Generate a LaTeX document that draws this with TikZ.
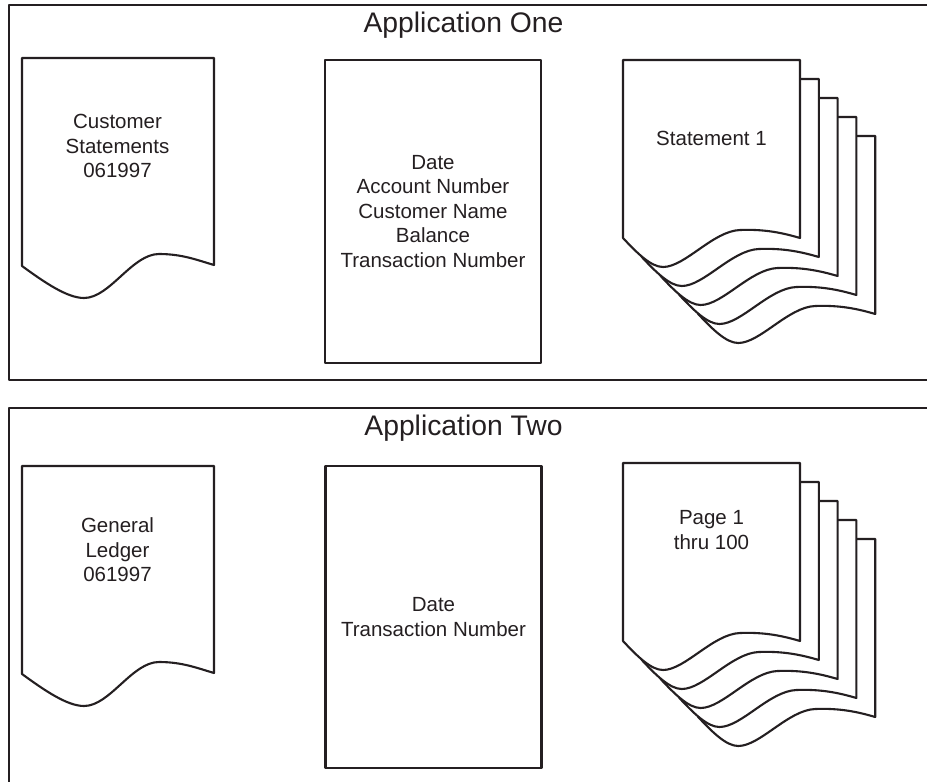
\documentclass[tikz,border=0pt]{standalone}
\usepackage{fontspec}
\setmainfont{Liberation Sans}
\definecolor{InkClr}{rgb}{0.14,0.12,0.13}

\begin{document}
\begin{tikzpicture}[x=1pt,y=-1pt,color=InkClr,line width=2.1pt,line join=round,
  frameline/.style={line width=2.3pt},
  titletext/.style={font=\fontsize{28.3}{34}\selectfont,inner sep=0pt},
  labeltext/.style={font=\fontsize{20.5}{24.5}\selectfont,align=center,inner sep=0pt},
  fieldbox/.style={draw,labeltext,minimum width=216pt,minimum height=303pt},
  report/.pic={\draw[fill=white] (0,0) -- (192,0) -- (192,207)
    .. controls (175,202) and (160,196) .. (137,196)
    .. controls (110,196) and (88,240) .. (62,240)
    .. controls (45,240) and (22,224) .. (0,208) -- cycle;},
  sheet/.pic={\draw[fill=white] (0,0) -- (177,0) -- (177,178)
    .. controls (160,173) and (142,169) .. (117,170)
    .. controls (90,171) and (62,207) .. (40,207)
    .. controls (28,207) and (14,193) .. (0,178) -- cycle;}]
\useasboundingbox (0,0) rectangle (927,782);

\draw[frameline] (927,5) -- (9,5) -- (9,380) -- (927,380);
\draw[frameline] (927,408) -- (9,408) -- (9,782);

\node[titletext,anchor=base] (titleone) at (463.5,32) {Application One};
\node[titletext,anchor=base] (titletwo) at (463.5,435) {Application Two};

\pic at (22,58) {report};
\node[labeltext] (custstmt) at (117.5,146) {Customer\\Statements\\061997};

\node[fieldbox] (fieldsone) at (433,211.5) {Date\\Account Number\\Customer Name\\Balance\\Transaction Number};

\pic at (698.2,136) {sheet};
\pic at (679.4,117) {sheet};
\pic at (660.6,98) {sheet};
\pic at (641.8,79) {sheet};
\pic at (623,60) {sheet};
\node[labeltext] (stmtone) at (711.5,138) {Statement 1};

\pic at (22,466) {report};
\node[labeltext] (genledger) at (117.5,550) {General\\Ledger\\061997};

\node[fieldbox,minimum height=302pt] (fieldstwo) at (433.5,617) {Date\\Transaction Number};

\pic at (698.2,539) {sheet};
\pic at (679.4,520) {sheet};
\pic at (660.6,501) {sheet};
\pic at (641.8,482) {sheet};
\pic at (623,463) {sheet};
\node[labeltext] (pageone) at (711.5,530) {Page 1\\thru 100};

\end{tikzpicture}
\end{document}
